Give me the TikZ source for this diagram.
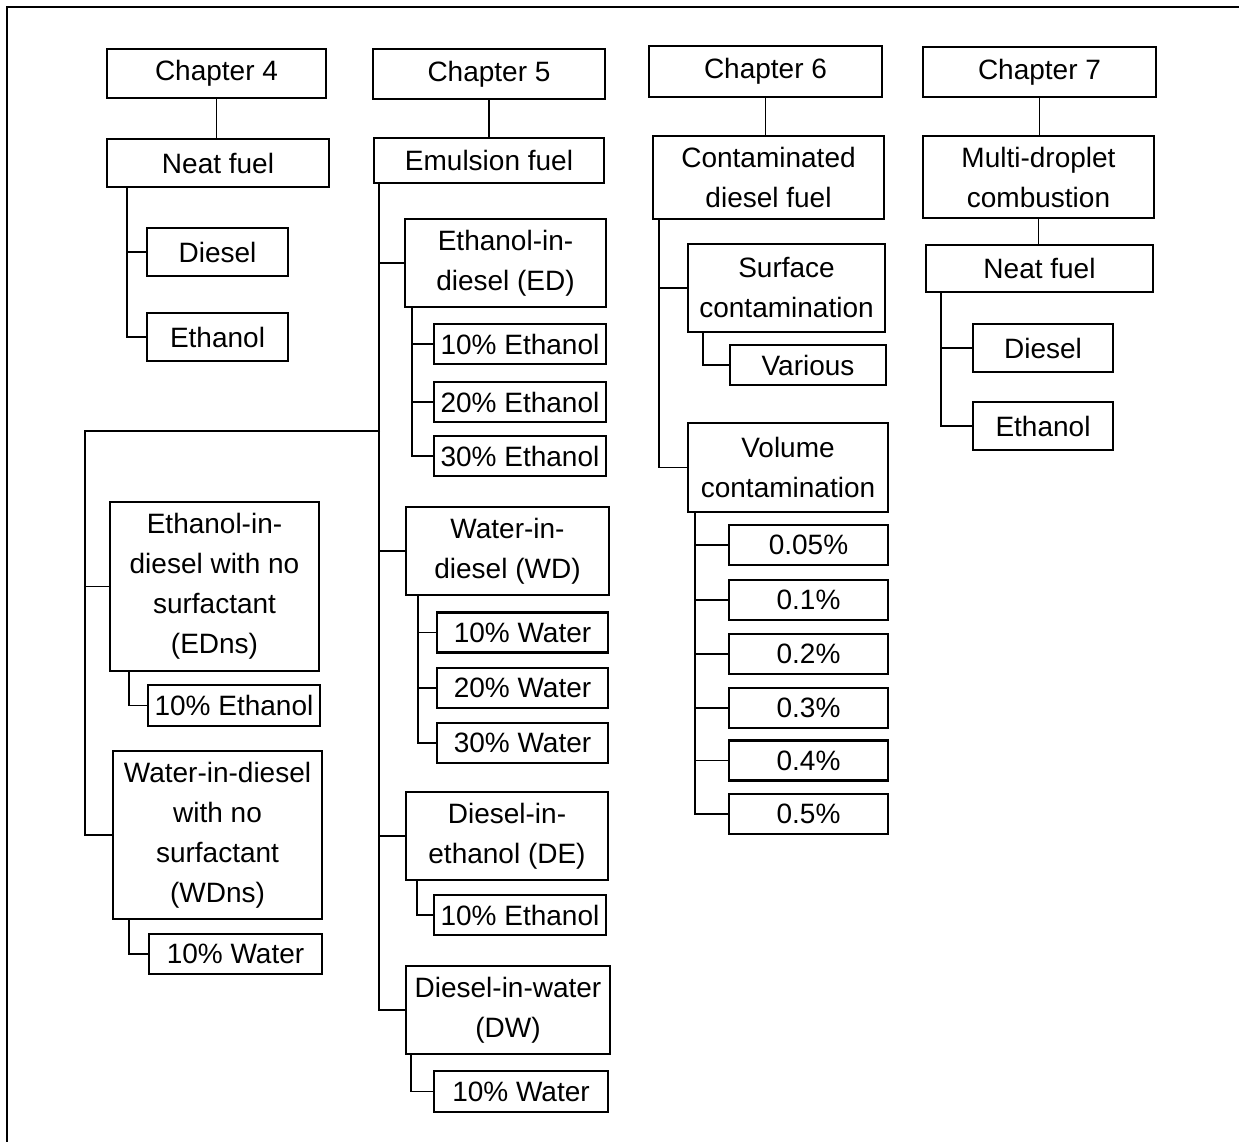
\documentclass[tikz,border=0pt]{standalone}
\usepackage{fontspec}
\setmainfont{Liberation Sans}
\begin{document}
\begin{tikzpicture}[x=1pt,y=-1pt,
  box/.style={draw,line width=2.3pt,inner sep=0pt,align=center,
    font=\fontsize{28pt}{40pt}\selectfont},
  conn/.style={line width=1.9pt}]
\useasboundingbox (0,0) rectangle (1239,1142);
% frame
\draw[line width=2.4pt] (7,1142) -- (7,7) -- (1239,7);
% Chapter 4
\node[box,minimum width=219,minimum height=49] (ch4) at (216.5,73.5) {Chapter 4};
\node[box,minimum width=222,minimum height=48] (nf4) at (218,163) {Neat fuel};
\node[box,minimum width=141,minimum height=48] (d4) at (217.5,252) {Diesel};
\node[box,minimum width=141,minimum height=48] (e4) at (217.5,337) {Ethanol};
% Chapter 5
\node[box,minimum width=232,minimum height=50] (ch5) at (489,74) {Chapter 5};
\node[box,minimum width=230,minimum height=45] (em) at (489,160.5) {Emulsion fuel};
\node[box,minimum width=201,minimum height=88] (ed) at (505.5,263) {Ethanol-in-\\diesel (ED)};
\node[box,minimum width=172,minimum height=40] (ed10) at (520,344) {10\% Ethanol};
\node[box,minimum width=172,minimum height=40] (ed20) at (520,402) {20\% Ethanol};
\node[box,minimum width=172,minimum height=40] (ed30) at (520,456) {30\% Ethanol};
\node[box,minimum width=203,minimum height=88] (wd) at (507.5,551) {Water-in-\\diesel (WD)};
\node[box,minimum width=171,minimum height=40] (wd10) at (522.5,632.5) {10\% Water};
\node[box,minimum width=171,minimum height=40] (wd20) at (522.5,688) {20\% Water};
\node[box,minimum width=171,minimum height=40] (wd30) at (522.5,743) {30\% Water};
\node[box,minimum width=202,minimum height=88] (de) at (507,836) {Diesel-in-\\ethanol (DE)};
\node[box,minimum width=172,minimum height=40] (de10) at (520,915) {10\% Ethanol};
\node[box,minimum width=204,minimum height=88] (dw) at (508,1010) {Diesel-in-water\\(DW)};
\node[box,minimum width=174,minimum height=41] (dw10) at (521,1091.5) {10\% Water};
\node[box,minimum width=209,minimum height=169] (edns) at (214.5,586.5) {Ethanol-in-\\diesel with no\\surfactant\\(EDns)};
\node[box,minimum width=172,minimum height=41] (edns10) at (234,705.5) {10\% Ethanol};
\node[box,minimum width=209,minimum height=168] (wdns) at (217.5,835) {Water-in-diesel\\with no\\surfactant\\(WDns)};
\node[box,minimum width=173,minimum height=40] (wdns10) at (235.5,954) {10\% Water};
% Chapter 6
\node[box,minimum width=233,minimum height=51] (ch6) at (765.5,71.5) {Chapter 6};
\node[box,minimum width=231,minimum height=83] (cdf) at (768.5,177.5) {Contaminated\\diesel fuel};
\node[box,minimum width=197,minimum height=88] (sc) at (786.5,288) {Surface\\contamination};
\node[box,minimum width=156,minimum height=40] (var) at (808,365) {Various};
\node[box,minimum width=200,minimum height=89] (vc) at (788,467.5) {Volume\\contamination};
\node[box,minimum width=159,minimum height=40] (p005) at (808.5,545) {0.05\%};
\node[box,minimum width=159,minimum height=40] (p01) at (808.5,600) {0.1\%};
\node[box,minimum width=159,minimum height=40] (p02) at (808.5,654) {0.2\%};
\node[box,minimum width=159,minimum height=40] (p03) at (808.5,708) {0.3\%};
\node[box,minimum width=159,minimum height=40] (p04) at (808.5,760.5) {0.4\%};
\node[box,minimum width=159,minimum height=40] (p05) at (808.5,814) {0.5\%};
% Chapter 7
\node[box,minimum width=233,minimum height=50] (ch7) at (1039.5,72) {Chapter 7};
\node[box,minimum width=231,minimum height=82] (mdc) at (1038.5,177) {Multi-droplet\\combustion};
\node[box,minimum width=227,minimum height=47] (nf7) at (1039.5,268.5) {Neat fuel};
\node[box,minimum width=140,minimum height=48] (d7) at (1043,348) {Diesel};
\node[box,minimum width=140,minimum height=48] (e7) at (1043,426) {Ethanol};
% connectors column 1
\draw[conn] (ch4.south) -- (ch4.south |- nf4.north);
\draw[conn] ([xshift=21pt]nf4.south west) |- (d4.west);
\draw[conn] ([xshift=21pt]nf4.south west) |- (e4.west);
% connectors column 2
\draw[conn] (ch5.south) -- (ch5.south |- em.north);
\draw[conn] ([xshift=6pt]em.south west) |- (ed.west);
\draw[conn] ([xshift=6pt]em.south west) |- (wd.west);
\draw[conn] ([xshift=6pt]em.south west) |- (de.west);
\draw[conn] ([xshift=6pt]em.south west) |- (dw.west);
\coordinate (ej) at (380,431);
\coordinate (lj) at (85,431);
\draw[conn] (ej) -- (lj) |- (wdns.west);
\draw[conn] (lj) |- (edns.west);
\draw[conn] ([xshift=20pt]edns.south west) |- (edns10.west);
\draw[conn] ([xshift=17pt]wdns.south west) |- (wdns10.west);
\draw[conn] ([xshift=8pt]ed.south west) |- (ed10.west);
\draw[conn] ([xshift=8pt]ed.south west) |- (ed20.west);
\draw[conn] ([xshift=8pt]ed.south west) |- (ed30.west);
\draw[conn] ([xshift=13pt]wd.south west) |- (wd10.west);
\draw[conn] ([xshift=13pt]wd.south west) |- (wd20.west);
\draw[conn] ([xshift=13pt]wd.south west) |- (wd30.west);
\draw[conn] ([xshift=12pt]de.south west) |- (de10.west);
\draw[conn] ([xshift=6pt]dw.south west) |- (dw10.west);
% connectors column 3
\draw[conn] (ch6.south) -- (ch6.south |- cdf.north);
\draw[conn] ([xshift=7pt]cdf.south west) |- (sc.west);
\draw[conn] ([xshift=7pt]cdf.south west) |- (vc.west);
\draw[conn] ([xshift=16pt]sc.south west) |- (var.west);
\draw[conn] ([xshift=8pt]vc.south west) |- (p005.west);
\draw[conn] ([xshift=8pt]vc.south west) |- (p01.west);
\draw[conn] ([xshift=8pt]vc.south west) |- (p02.west);
\draw[conn] ([xshift=8pt]vc.south west) |- (p03.west);
\draw[conn] ([xshift=8pt]vc.south west) |- (p04.west);
\draw[conn] ([xshift=8pt]vc.south west) |- (p05.west);
% connectors column 4
\draw[conn] (ch7.south) -- (ch7.south |- mdc.north);
\draw[conn] (mdc.south) -- (mdc.south |- nf7.north);
\draw[conn] ([xshift=16pt]nf7.south west) |- (d7.west);
\draw[conn] ([xshift=16pt]nf7.south west) |- (e7.west);
\end{tikzpicture}
\end{document}
